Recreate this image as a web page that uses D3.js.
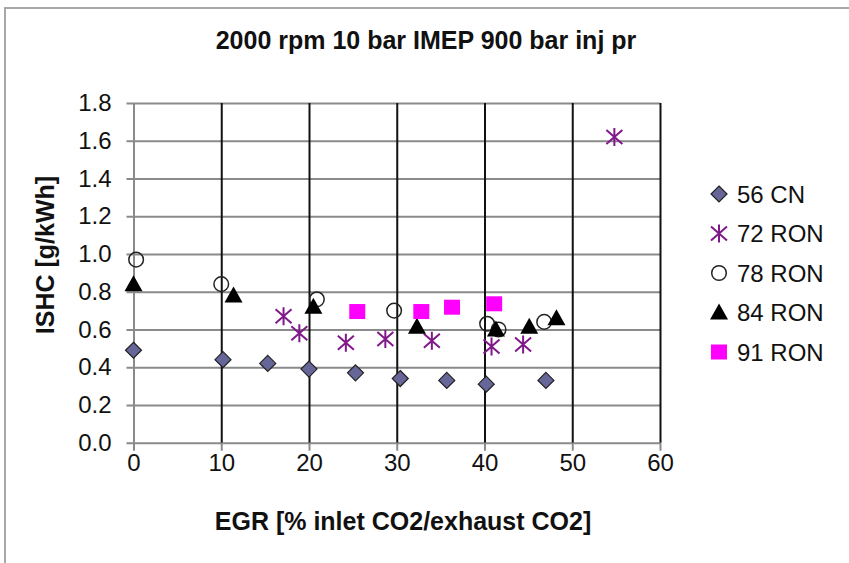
<!DOCTYPE html>
<html>
<head>
	<meta charset="utf-8" />
	<title>ISHC vs EGR</title>
	<script src="https://cdn.jsdelivr.net/npm/d3@7"></script>
	<style>
		body { margin: 0; background: #fff; }
		text { font-family: "Liberation Sans", Arial, sans-serif; fill: #111; }
	</style>
</head>
<body>

<script>
// values: [EGR %, ISHC g/kWh]
var cn56  = [[0, 0.49], [10.2, 0.44], [15.3, 0.42], [20, 0.39], [25.3, 0.37], [30.4, 0.34], [35.7, 0.33], [40.2, 0.31], [47, 0.33]];
var ron72 = [[17.1, 0.67], [18.9, 0.58], [24.2, 0.53], [28.7, 0.55], [34, 0.54], [40.8, 0.51], [44.4, 0.52], [54.8, 1.62]];
var ron78 = [[0.3, 0.97], [10, 0.84], [20.9, 0.76], [29.7, 0.70], [40.3, 0.63], [41.6, 0.60], [46.8, 0.64]];
var ron84 = [[0, 0.84], [11.4, 0.78], [20.5, 0.72], [32.3, 0.615], [41.3, 0.60], [45.1, 0.615], [48.2, 0.66]];
var ron91 = [[25.5, 0.695], [32.8, 0.695], [36.3, 0.718], [41.1, 0.736]];

var seriesNames = ["56 CN", "72 RON", "78 RON", "84 RON", "91 RON"];
var xTicks = [0, 10, 20, 30, 40, 50, 60];
var yTicks = [0, 0.2, 0.4, 0.6, 0.8, 1.0, 1.2, 1.4, 1.6, 1.8];

var W = 849, H = 563;
var plotLeft = 133.5, plotTop = 103, plotW = 526.5, plotH = 339.7;

var svg = d3.select("body").append("svg")
			.attr("width", W)
			.attr("height", H);

// outer frame (only top and left edges show)
svg.append("path")
	.attr("d", "M5,563 L5,8 L849,8")
	.attr("fill", "none")
	.attr("stroke", "#a8a8a8")
	.attr("stroke-width", 2);

var x = d3.scaleLinear().domain([0, 60]).range([0, plotW]);
var y = d3.scaleLinear().domain([0, 1.8]).range([plotH, 0]);

var g = svg.append("g")
			.attr("transform", "translate(" + plotLeft + "," + plotTop + ")");

// horizontal grid, with small ticks sticking out on the left
var yGrid = g.append("g")
	.call(d3.axisLeft(y).tickValues(yTicks).tickSize(-plotW).tickSizeOuter(0).tickFormat(""));
yGrid.select(".domain").remove();
yGrid.selectAll("line")
	.attr("x1", -7)
	.attr("stroke", "#8a8a8a")
	.attr("stroke-width", 2);

// vertical grid, black except the axis at 0
var xGrid = g.append("g")
	.attr("transform", "translate(0," + plotH + ")")
	.call(d3.axisBottom(x).tickValues(xTicks).tickSize(-plotH).tickSizeOuter(0).tickFormat(""));
xGrid.select(".domain").remove();
xGrid.selectAll("line")
	.attr("stroke", function(d){ return d === 0 ? "#8a8a8a" : "#111"; })
	.attr("stroke-width", 2);

// tick stubs under the x axis
var xTickStubs = g.append("g")
	.attr("transform", "translate(0," + plotH + ")")
	.call(d3.axisBottom(x).tickValues(xTicks).tickSize(8).tickSizeOuter(0).tickPadding(3)
		.tickFormat(d3.format("d")));
xTickStubs.select(".domain").remove();
xTickStubs.selectAll("line").attr("stroke", "#8a8a8a").attr("stroke-width", 2);
xTickStubs.selectAll("text")
	.style("font-size", "24px")
	.style("font-family", "'Liberation Sans', Arial, sans-serif")
	.attr("fill", "#111");

// y labels
var yLabels = g.append("g")
	.call(d3.axisLeft(y).tickValues(yTicks).tickSize(0).tickPadding(22)
		.tickFormat(d3.format(".1f")));
yLabels.select(".domain").remove();
yLabels.selectAll("text")
	.style("font-size", "24px")
	.style("font-family", "'Liberation Sans', Arial, sans-serif")
	.attr("fill", "#111");

// markers
var symbols = {
	"56 CN": function(sel) {
		sel.append("path")
			.attr("d", "M0,-8 L8,0 L0,8 L-8,0 Z")
			.attr("fill", "#666699")
			.attr("stroke", "#222")
			.attr("stroke-width", 1.2);
	},
	"72 RON": function(sel) {
		sel.append("path")
			.attr("d", "M0,-9 L0,9 M-8,-7 L8,7 M-8,7 L8,-7")
			.attr("fill", "none")
			.attr("stroke", "#80188a")
			.attr("stroke-width", 2);
	},
	"78 RON": function(sel) {
		sel.append("circle")
			.attr("r", 7.3)
			.attr("fill", "none")
			.attr("stroke", "#222")
			.attr("stroke-width", 1.5);
	},
	"84 RON": function(sel) {
		sel.append("path")
			.attr("d", "M0,-9 L9,7 L-9,7 Z")
			.attr("fill", "#000");
	},
	"91 RON": function(sel) {
		sel.append("rect")
			.attr("x", -8).attr("y", -7.5)
			.attr("width", 16).attr("height", 15)
			.attr("fill", "#ff00ff");
	}
};

var allSeries = [cn56, ron72, ron78, ron84, ron91];

allSeries.forEach(function(data, i) {
	var name = seriesNames[i];
	g.append("g")
		.selectAll("g")
		.data(data)
		.enter()
		.append("g")
		.attr("transform", function(d){ return "translate(" + x(d[0]) + "," + y(d[1]) + ")"; })
		.each(function(){ symbols[name](d3.select(this)); });
});

// title and axis titles
svg.append("text")
	.attr("x", 426)
	.attr("y", 49)
	.attr("text-anchor", "middle")
	.style("font-size", "25px")
	.style("font-weight", "bold")
	.text("2000 rpm 10 bar IMEP 900 bar inj pr");

svg.append("text")
	.attr("x", 403)
	.attr("y", 530)
	.attr("text-anchor", "middle")
	.style("font-size", "25px")
	.style("font-weight", "bold")
	.text("EGR [% inlet CO2/exhaust CO2]");

svg.append("text")
	.attr("transform", "translate(54,255) rotate(-90)")
	.attr("text-anchor", "middle")
	.style("font-size", "25px")
	.style("font-weight", "bold")
	.text("ISHC [g/kWh]");

// legend
var legend = svg.append("g")
	.selectAll("g")
	.data(seriesNames)
	.enter()
	.append("g")
	.attr("transform", function(d, i){ return "translate(719," + (194 + i * 39.5) + ")"; });

legend.each(function(d){ symbols[d](d3.select(this)); });

legend.append("text")
	.attr("x", 18)
	.attr("dy", "0.36em")
	.style("font-size", "24px")
	.text(function(d){ return d; });
</script>
</body>
</html>
